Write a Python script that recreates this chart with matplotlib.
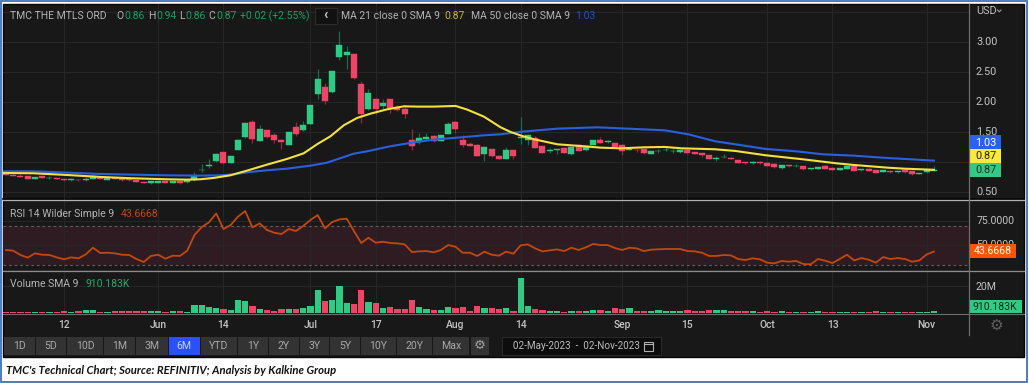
import matplotlib
matplotlib.use("Agg")
import matplotlib.pyplot as plt
from matplotlib.patches import Rectangle

W, H = 1029, 383

# ---------- data ----------
opens = [.806,.794,.778,.772,.728,.767,.733,.739,.728,.700,.711,.700,.722,.733,.706,.733,.733,.717,.700,.672,
         .650,.661,.689,.656,.683,.667,.700,.867,.933,1.022,1.172,.989,1.206,1.417,1.672,1.361,1.533,1.461,1.378,1.294,
         1.589,1.533,1.644,2.133,2.261,2.172,2.756,2.783,2.800,2.300,1.894,2.056,1.933,2.050,1.917,1.889,1.372,1.339,1.394,1.439,
         1.361,1.478,1.678,1.378,1.300,1.294,1.133,1.217,1.111,1.056,1.200,1.410,1.378,1.406,1.272,1.194,1.206,1.244,1.144,1.283,
         1.200,1.294,1.372,1.344,1.317,1.289,1.206,1.211,1.217,1.144,1.183,1.200,1.183,1.167,1.211,1.172,1.150,1.117,1.056,1.083,
         1.078,1.039,1.006,.994,1.006,.994,.978,.911,.956,.933,.933,.883,.889,.944,.906,.878,.894,.944,.867,.889,
         .867,.844,.856,.833,.878,.856,.811,.833,.860]
highs = [.810,.800,.800,.775,.760,.770,.767,.745,.730,.733,.720,.756,.789,.740,.740,.750,.740,.725,.705,.680,
         .695,.695,.695,.690,.690,.720,.844,.978,1.050,1.150,1.180,1.100,1.394,1.660,1.700,1.628,1.540,1.489,1.390,1.511,
         1.672,1.683,1.950,2.561,2.330,2.522,3.194,2.933,2.810,2.350,2.217,2.078,2.061,2.060,1.950,1.950,1.561,1.489,1.494,1.460,
         1.450,1.672,1.690,1.461,1.339,1.300,1.256,1.225,1.117,1.250,1.210,1.756,1.460,1.440,1.280,1.240,1.217,1.250,1.250,1.300,
         1.280,1.372,1.425,1.378,1.330,1.300,1.240,1.225,1.225,1.190,1.225,1.256,1.220,1.210,1.220,1.180,1.155,1.122,1.100,1.133,
         1.085,1.045,1.012,1.020,1.020,1.000,.985,.950,.962,.965,.940,.910,.930,.950,.915,.900,.945,.950,.890,.900,
         .872,.870,.862,.870,.885,.860,.830,.885,.940]
lows = [.785,.775,.750,.725,.725,.735,.730,.720,.695,.695,.695,.695,.720,.715,.700,.715,.695,.695,.670,.655,
        .645,.655,.655,.650,.644,.660,.695,.844,.905,1.011,.967,.985,1.200,1.410,1.328,1.355,1.410,1.328,1.228,1.290,
        1.433,1.525,1.640,2.050,1.978,2.161,2.700,2.561,2.389,1.656,1.867,1.800,1.894,1.822,1.860,1.744,1.211,1.311,1.367,1.340,
        1.355,1.470,1.494,1.256,1.270,1.105,1.028,1.089,1.050,1.050,1.061,1.311,1.283,1.240,1.150,1.150,1.144,1.155,1.122,1.185,
        1.190,1.290,1.315,1.320,1.245,1.122,1.200,1.170,1.145,1.140,1.155,1.190,1.150,1.160,1.150,1.140,1.089,1.055,1.028,1.070,
        1.050,.990,.980,.975,.980,.935,.912,.890,.915,.925,.880,.880,.885,.890,.870,.870,.890,.850,.855,.855,
        .820,.840,.828,.825,.828,.795,.805,.820,.860]
closes = [.789,.778,.756,.728,.756,.739,.744,.722,.700,.717,.700,.728,.767,.717,.733,.717,.700,.700,.672,.661,
          .689,.689,.661,.683,.661,.711,.778,.878,.961,1.139,.994,1.100,1.372,1.656,1.394,1.556,1.417,1.372,1.333,1.511,
          1.472,1.628,1.950,2.389,2.017,2.522,2.961,2.844,2.400,1.811,2.156,1.883,1.989,1.906,1.878,1.811,1.272,1.411,1.417,1.356,
          1.450,1.639,1.561,1.289,1.278,1.111,1.256,1.111,1.056,1.200,1.100,1.422,1.450,1.244,1.156,1.206,1.217,1.161,1.250,1.189,
          1.272,1.372,1.322,1.356,1.250,1.189,1.239,1.200,1.150,1.189,1.194,1.211,1.194,1.206,1.156,1.144,1.117,1.061,1.067,1.094,
          1.056,.994,.989,1.006,.983,.939,.917,.950,.933,.944,.883,.911,.928,.894,.878,.900,.939,.856,.883,.861,
          .822,.867,.833,.861,.833,.800,.822,.878,.870]

ma21_i = [-0.5,3.78,8.38,12.98,17.59,22.19,24.95,26.8,28.64,30.94,33.24,36.0,38.77,41.07,42.9,44.75,46.6,48.43,50.28,52.58,
          54.88,56.7,59.02,62.02,63.63,65.93,68.23,69.6,71.2,72.85,76.07,79.75,82.05,84.8,88.07,90.86,93.19,97.84,100.63,104.81,
          109.93,114.58,116.9,121.56,123.88,128]
ma21 = [.822,.817,.789,.756,.733,.717,.711,.717,.739,.783,.861,.961,1.056,1.150,1.300,1.433,1.617,1.739,1.811,1.883,
        1.933,1.928,1.928,1.939,1.878,1.761,1.583,1.506,1.439,1.383,1.300,1.267,1.244,1.233,1.250,1.256,1.233,1.217,1.189,1.117,
        1.050,.983,.956,.911,.894,.875]
ma50_i = [-0.5,3.78,8.38,12.98,17.59,22.19,26.8,29.56,31.4,33.7,36.0,38.77,41.99,44.29,47.97,49.8,53.0,56.27,59.02,62.24,
          65.93,68.23,71.2,72.85,76.07,81.6,86.67,90.86,94.12,97.84,100.63,104.81,109.0,112.72,116.9,121.56,128]
ma50 = [.850,.850,.828,.806,.794,.783,.778,.783,.800,.839,.867,.894,.944,.994,1.144,1.183,1.267,1.333,1.378,1.411,
        1.450,1.467,1.511,1.528,1.561,1.583,1.556,1.533,1.467,1.350,1.300,1.222,1.183,1.133,1.111,1.072,1.028]

rsi = [45.3,44.6,40.2,37.5,41.9,40.5,40.2,37.8,35.8,37.8,36.8,40.8,47.6,42.2,42.5,41.9,40.5,40.2,36.1,33.1,
       39.2,40.5,36.4,39.5,39.2,44.6,60.5,68.6,73.4,82.5,66.6,70.7,79.2,84.9,68.3,72.4,65.6,62.9,61.5,66.6,
       64.6,69.7,75.8,80.8,67.3,73.7,76.4,77.1,64.6,52.4,57.8,52.7,53.7,52.4,52.0,51.0,43.2,43.9,44.2,42.9,
       45.3,50.3,48.6,42.5,42.5,39.2,43.6,40.5,39.5,43.6,41.5,
       50.0,51.0,46.9,43.9,44.9,45.9,44.2,47.6,45.3,48.0,51.4,50.3,50.3,47.3,45.3,47.6,46.9,44.2,45.6,45.9,
       46.3,46.3,46.3,44.2,43.9,42.5,39.2,39.2,40.2,39.8,36.1,35.1,36.8,35.8,32.4,31.7,34.1,33.4,34.1,31.0,
       30.7,36.1,34.4,32.0,36.1,40.5,34.7,37.1,35.4,32.4,38.1,36.1,37.1,36.1,33.4,34.7,40.8,43.67]

volume_m = [1.0,1.0,1.0,1.0,1.2,1.0,1.2,1.2,1.7,1.2,1.7,2.2,2.2,1.2,1.0,1.7,2.0,1.7,2.0,1.7,
            1.7,1.7,1.2,1.5,1.7,1.2,6.4,5.9,4.4,3.7,3.5,2.5,9.6,9.4,5.7,3.5,2.7,2.0,3.0,3.2,
            3.0,4.0,5.2,17.5,8.9,9.6,20.5,7.4,7.2,17.5,8.4,7.7,4.0,4.9,3.2,3.5,9.6,4.4,3.0,2.5,
            2.5,4.4,3.7,4.7,1.5,5.4,4.0,3.7,3.0,3.7,2.0,
            26.2,5.2,3.2,2.5,2.0,1.7,1.2,2.0,2.0,2.0,2.5,2.7,1.5,3.7,3.0,3.7,2.0,1.7,1.7,2.2,
            1.7,1.7,1.7,2.2,1.7,1.7,2.2,2.2,2.2,1.7,1.7,1.7,1.7,1.2,1.7,1.2,1.7,1.2,.7,1.2,
            1.2,1.7,1.2,1.2,1.2,1.2,1.2,1.2,1.2,1.7,.7,.7,.7,1.2,1.2,1.2,1.0,1.7]

tick_idx = [8,21,30,42,51,62,71,85,94,105,114,127]
tick_labels = ["12","Jun","14","Jul","17","Aug","14","Sep","15","Oct","13","Nov"]
price_ticks = [.5,1.0,1.5,2.0,2.5,3.0,3.5]
price_labels = [(.5,"0.50"),(1.5,"1.50"),(2.0,"2.00"),(2.5,"2.50"),(3.0,"3.00")]
buttons = [("1D",4,35),("5D",36,66),("10D",67,103),("1M",104,135),("3M",136,168),("YTD",201,237),
           ("1Y",238,268),("2Y",269,299),("3Y",300,329),("5Y",330,360),("10Y",361,396),("20Y",397,432),("Max",433,469)]

# ---------- style ----------
BG = "#181818"; GRID = "#262626"; TXT = "#b4b4b4"
GREEN = "#2fcb84"; RED = "#ee4466"; DGREEN = "#1d6a4b"; DRED = "#8c2b40"
plt.rcParams["font.family"] = ["Roboto", "DejaVu Sans"]

fig = plt.figure(figsize=(W/100, H/100), dpi=100, facecolor="white")

def ax_px(x0, y0, x1, y1, z):
    a = fig.add_axes([x0/W, 1-y1/H, (x1-x0)/W, (y1-y0)/H], zorder=z)
    a.patch.set_alpha(0)
    return a

chrome = ax_px(0, 0, W, H, 0); chrome.set_xlim(0, W); chrome.set_ylim(H, 0); chrome.axis("off")
top = ax_px(0, 0, W, H, 10); top.set_xlim(0, W); top.set_ylim(H, 0); top.axis("off")

def box(a, x0, y0, x1, y1, fc, ec="none", lw=0, z=1):
    a.add_patch(Rectangle((x0, y0), x1-x0, y1-y0, fc=fc, ec=ec, lw=lw, zorder=z))

# outer frame and panel
box(chrome, 0.5, 1, 1027, 381.7, "white", "#4a7cc4", 1.4)
box(chrome, 2.5, 3.5, 1024, 356.5, BG, "#050505", 1.0, 2)

XL = (-0.41, 132.8)
def panel(y0, y1, ylim):
    a = ax_px(3, y0, 968.7, y1, 2)
    a.set_xlim(*XL); a.set_ylim(*ylim)
    for s in a.spines.values():
        s.set_visible(False)
    a.tick_params(left=False, bottom=False, labelleft=False, labelbottom=False)
    a.set_xticks(tick_idx)
    a.grid(True, axis="x", color=GRID, lw=0.8)
    a.set_axisbelow(True)
    return a

# ---------- price ----------
ax = panel(4, 200, (0.5-(200-192.3)/60, 0.5+(192.3-4)/60))
ax.set_yticks(price_ticks)
ax.grid(True, axis="y", color=GRID, lw=0.8)
idx = list(range(len(opens)))
up = [c >= o for o, c in zip(opens, closes)]
ax.vlines(idx, lows, highs, colors=[DGREEN if u else DRED for u in up], lw=0.9, zorder=2)
ax.bar(idx, [abs(c-o) for o, c in zip(opens, closes)], bottom=[min(o, c) for o, c in zip(opens, closes)],
       width=0.82, color=[GREEN if u else RED for u in up], edgecolor=[GREEN if u else RED for u in up],
       lw=0.3, zorder=3)
ax.plot(ma50_i, ma50, color="#2a5fe0", lw=1.5, zorder=4)
ax.plot(ma21_i, ma21, color="#f4e23c", lw=1.5, zorder=5)

# ---------- RSI ----------
rax = panel(201, 271, (70-(271-225.7)/.983, 70+(225.7-201)/.983))
rax.set_yticks([25, 50, 75])
rax.grid(True, axis="y", color=GRID, lw=0.8)
rax.axhspan(30, 70, color="#2f1c22", lw=0, zorder=0.5)
for lvl in (30, 70):
    rax.axhline(lvl, color="#6a5a5e", lw=0.8, ls=(0, (2.5, 2.5)), zorder=1)
rax.plot(idx, rsi, color="#c2480e", lw=1.3, zorder=4)

# ---------- volume ----------
vax = panel(272, 313.3, (0, (313.3-272)/1.35))
vax.set_yticks([20])
vax.grid(True, axis="y", color=GRID, lw=0.8)
vax.bar(idx, volume_m, width=0.86, color=[GREEN if u else RED for u in up], lw=0, zorder=3)

# ---------- separators ----------
chrome.plot([3, 1023.7], [198.8, 198.8], color="#050505", lw=1.2, zorder=3)
top.plot([3, 1023.7], [200.3, 200.3], color="#b0b0b0", lw=0.9)
top.plot([3, 1023.7], [271.3, 271.3], color="#8c8c8c", lw=0.9)
top.plot([3, 1023.7], [313.6, 313.6], color="#6e6e6e", lw=0.8)
top.plot([968.7, 968.7], [4, 335], color="#6e6e6e", lw=0.9)

# ---------- labels ----------
def t(x, y, s, c=TXT, size=7.5, ha="left", z=3, **kw):
    top.text(x, y, s, color=c, fontsize=size, ha=ha, va="center", zorder=z, **kw)

for i, lab in zip(tick_idx, tick_labels):
    t(6+7.25*i, 325, lab, "#c4c4c4", 7.4, "center", fontweight="medium")

# ---------- header ----------
HG = "#1f9d62"
t(10, 16, "TMC THE MTLS ORD")
for x, s, c in [(116,"O",TXT),(124,"0.86",HG),(148,"H",TXT),(156,"0.94",HG),(179,"L",TXT),(185,"0.86",HG),
                (208,"C",TXT),(216,"0.87",HG),(240,"+0.02 (+2.55%)",HG)]:
    t(x, 16, s, c)
top.add_patch(Rectangle((314.5, 7.5), 22, 16.5, fc="#111111", ec="#2c2c2c", lw=0.8))
t(325.5, 15.5, "‹", "#d0d0d0", 10, "center", fontweight="bold")
t(341, 16, "MA 21 close 0 SMA 9")
t(444, 16, "0.87", "#c9b62a")
t(471, 16, "MA 50 close 0 SMA 9")
t(575, 16, "1.03", "#2450c8")

# panel legends
t(10, 213.7, "RSI 14 Wilder Simple 9")
t(121, 213.7, "43.6668", "#c2480e")
t(10, 284.3, "Volume SMA 9")
t(85, 284.3, "910.183K", "#26a86c")

# ---------- right scale ----------
t(976, 11, "USD", "#c0c0c0", 7.8)
top.plot([997.5, 999.3, 1001], [10, 11.8, 10], color="#a0a0a0", lw=0.8)
for p, s in price_labels:
    t(976, 192.3-(p-.5)*60, s, "#c4c4c4", 7.8)
t(976.5, 220.7, "75.0000", "#c4c4c4", 7.6)
t(976.5, 244.5, "50.0000", "#c4c4c4", 7.6, z=0.5)
t(976, 287, "20M", "#c4c4c4", 7.6)
for y0, y1, fc, tc, s in [(135.3,149.3,"#2a62f0","white","1.03"),(149.3,162.8,"#fde83c","#222222","0.87"),
                          (162.8,177.3,GREEN,"#10301f","0.87")]:
    box(top, 968.7, y0, 1000.7, y1, fc)
    t(986, (y0+y1)/2+0.2, s, tc, 7.8, "center")
box(top, 968.7, 244.3, 1015.7, 258.3, "#ff5500")
t(992.5, 251.5, "43.6668", "white", 7.6, "center")
box(top, 968.7, 299.7, 1021.7, 313.3, GREEN)
t(995, 306.7, "910.183K", "#0e2a1c", 7.6, "center")
top.text(996, 325, "⚙", color="#606060", fontsize=11, ha="center", va="center", family="DejaVu Sans")

# ---------- range buttons ----------
for s, x0, x1 in buttons:
    box(top, x0, 337, x1, 354.5, "#333333")
    t((x0+x1)/2, 346, s, "#a8a8a8", 7.6, "center")
box(top, 168.5, 337, 200, 354.5, "#2b50f7")
t(184.2, 346, "6M", "#c9d3ff", 7.6, "center")
box(top, 470.5, 337, 488.5, 354.5, "#333333")
top.text(479.5, 345.5, "⚙", color="#a0a0a0", fontsize=9.5, ha="center", va="center", family="DejaVu Sans")
top.add_patch(Rectangle((502, 337), 158.5, 17.5, fc="#0d0d0d", ec="#2a2a2a", lw=0.7))
t(513, 346, "02-May-2023  -  02-Nov-2023", "#bcbcbc", 7.1)
top.add_patch(Rectangle((644, 341.5), 9, 9.5, fc="none", ec="#b0b0b0", lw=0.8))
top.plot([644, 653], [344, 344], color="#b0b0b0", lw=0.8)

# ---------- caption ----------
top.text(6, 370.5, "TMC's Technical Chart; Source: REFINITIV; Analysis by Kalkine Group", color="#101010",
         fontsize=8.15, ha="left", va="center", family="Lato", fontweight="bold", fontstyle="italic")

fig.savefig("out.png", dpi=100, facecolor="white")
